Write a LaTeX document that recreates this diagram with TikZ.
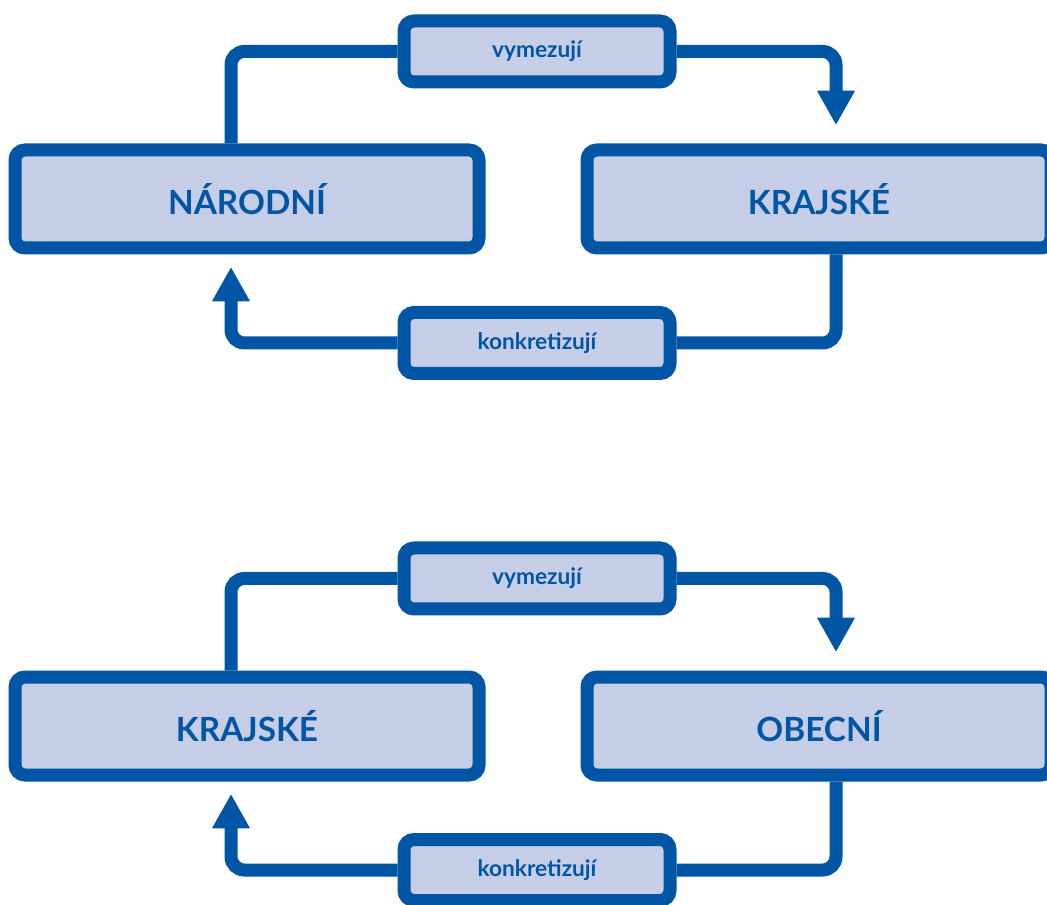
\documentclass[tikz,border=0pt]{standalone}
\usepackage{fontspec}
\setmainfont{Lato}
\usetikzlibrary{arrows.meta,calc}

\definecolor{levelblue}{RGB}{0,85,165}
\definecolor{levelfill}{RGB}{197,206,230}

\tikzset{every picture/.style={line width=0.75pt}}
\tikzset{
  levelbox/.style={draw=levelblue, fill=levelfill, line width=9.75pt, rounded corners=7.5pt,
    minimum width=348pt, minimum height=73.5pt, inner sep=0pt, text=levelblue,
    font=\fontsize{25}{29}\selectfont\bfseries},
  verbbox/.style={levelbox, minimum width=199.5pt, minimum height=45.75pt,
    font=\fontsize{17}{20}\selectfont\bfseries},
  flow/.style={draw=levelblue, line width=9.75pt, rounded corners=10pt},
  flowtip/.style={flow, -{Triangle[width=28.5pt,length=25.5pt,line width=0.75pt,round]}}
}

\begin{document}
\begin{tikzpicture}[x=0.75pt,y=0.75pt,yscale=-1,xscale=1]
\useasboundingbox (0,0) rectangle (1047,905);

% Upper pair
\node[levelbox] (narodni) at (247,199) {NÁRODNÍ};
\node[levelbox] (krajske) at (819,199) {KRAJSKÉ};
\node[verbbox] (vym1) at (537,51.5) {vymezují};
\node[verbbox] (konk1) at (537,343) {konkretizují};
\coordinate (in1) at ($(krajske.north)+(17,-19.5)$);
\coordinate (up1) at ($(narodni.south)+(-16,13.5)$);

\draw[flow] (narodni.north -| up1) |- (vym1.west);
\draw[flowtip] (vym1.east) -| (in1);
\draw[flow] (krajske.south -| in1) |- (konk1.east);
\draw[flowtip] (konk1.west) -| (up1);

% Lower pair
\node[levelbox] (krajske2) at (247,726) {KRAJSKÉ};
\node[levelbox] (obecni) at (819,726) {OBECNÍ};
\node[verbbox] (vym2) at (537,578.5) {vymezují};
\node[verbbox] (konk2) at (537,870) {konkretizují};
\coordinate (in2) at ($(obecni.north)+(17,-19.5)$);
\coordinate (up2) at ($(krajske2.south)+(-16,13.5)$);

\draw[flow] (krajske2.north -| up2) |- (vym2.west);
\draw[flowtip] (vym2.east) -| (in2);
\draw[flow] (obecni.south -| in2) |- (konk2.east);
\draw[flowtip] (konk2.west) -| (up2);

\end{tikzpicture}
\end{document}
